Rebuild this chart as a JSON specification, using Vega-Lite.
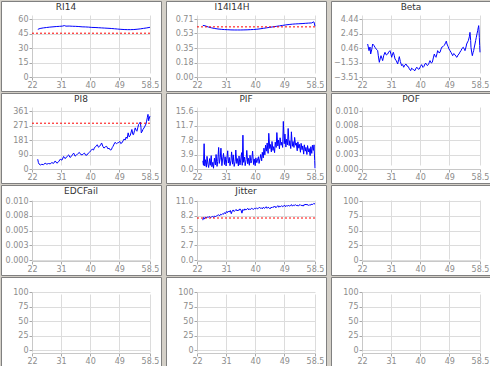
{
"$schema":"https://vega.github.io/schema/vega-lite/v6.json",
"background":"#d4d0c8",
"padding":0,
"bounds":"flush",
"spacing":{"row":2,"column":5},
"columns":3,
"config":{
 "view":{"fill":"#ffffff","stroke":"#808080","strokeWidth":1},
 "axis":{"grid":true,"gridColor":"#dcdcdc","domainColor":"#c8c8c8","tickColor":"#a8a8a8","tickSize":3,"labelFont":"DejaVu Sans","labelFontSize":8,"labelColor":"#8c8c8c","labelPadding":1,"labelFlush":false,"labelOverlap":false},
 "title":{"font":"DejaVu Sans","fontSize":9,"fontWeight":"normal","color":"#333333","offset":-11,"anchor":"middle","frame":"group"},
 "line":{"color":"#0000ff","strokeWidth":1},
 "rule":{"color":"#ff0000","strokeDash":[2,2],"strokeWidth":1}
},
"datasets":{
 "ri14":[{"x":23.8,"y":49.3},{"x":24.5,"y":50.2},{"x":25.5,"y":50.8},{"x":26.5,"y":51.2},{"x":27.5,"y":51.6},{"x":28.5,"y":51.9},{"x":29.5,"y":52.2},{"x":30.5,"y":52.4},{"x":31.5,"y":52.7},{"x":32,"y":53.2},{"x":32.5,"y":52.6},{"x":33.5,"y":52.7},{"x":34.5,"y":52.5},{"x":35.5,"y":52.4},{"x":36.5,"y":52.2},{"x":37.5,"y":51.9},{"x":38.5,"y":51.8},{"x":39.5,"y":51.6},{"x":40.5,"y":51.3},{"x":41.5,"y":51.2},{"x":42.5,"y":51.0},{"x":43.5,"y":50.8},{"x":44.5,"y":50.6},{"x":45.5,"y":50.4},{"x":46.5,"y":50.2},{"x":47.5,"y":49.9},{"x":48.5,"y":49.6},{"x":49.5,"y":49.3},{"x":50.5,"y":49.1},{"x":51.5,"y":49.0},{"x":52.5,"y":49.0},{"x":53.5,"y":49.1},{"x":54.5,"y":49.4},{"x":55.5,"y":49.8},{"x":56.5,"y":50.3},{"x":57.5,"y":50.8},{"x":58.5,"y":51.4}],
 "i14":[{"x":23.8,"y":0.63},{"x":24.5,"y":0.625},{"x":25.5,"y":0.61},{"x":26.5,"y":0.6},{"x":27.5,"y":0.592},{"x":28.5,"y":0.586},{"x":29.5,"y":0.582},{"x":30.5,"y":0.579},{"x":31.5,"y":0.577},{"x":32.5,"y":0.575},{"x":33.5,"y":0.574},{"x":34.5,"y":0.574},{"x":35.5,"y":0.574},{"x":36.5,"y":0.575},{"x":37.5,"y":0.576},{"x":38.5,"y":0.578},{"x":39.5,"y":0.58},{"x":40.5,"y":0.583},{"x":41.5,"y":0.588},{"x":42.5,"y":0.594},{"x":43.5,"y":0.6},{"x":44.5,"y":0.606},{"x":45.5,"y":0.612},{"x":46.5,"y":0.618},{"x":47.5,"y":0.624},{"x":48.5,"y":0.63},{"x":49.5,"y":0.636},{"x":50.5,"y":0.641},{"x":51.5,"y":0.645},{"x":52.5,"y":0.648},{"x":53.5,"y":0.65},{"x":54.5,"y":0.652},{"x":55.5,"y":0.655},{"x":56.5,"y":0.658},{"x":57.5,"y":0.66},{"x":58.0,"y":0.672},{"x":58.2,"y":0.67},{"x":58.5,"y":0.62}],
 "beta":[{"x":23.75,"y":1.01},{"x":24.17,"y":0.1},{"x":24.47,"y":0.6},{"x":24.68,"y":-0.36},{"x":24.99,"y":0.2},{"x":25.3,"y":1.01},{"x":25.71,"y":0.8},{"x":26.02,"y":0.56},{"x":26.43,"y":0.3},{"x":26.85,"y":0.1},{"x":27.05,"y":-0.6},{"x":27.36,"y":-1.5},{"x":27.67,"y":-0.9},{"x":27.88,"y":-0.59},{"x":28.19,"y":-1.0},{"x":28.39,"y":-1.27},{"x":28.7,"y":-0.6},{"x":29.11,"y":-0.13},{"x":29.53,"y":-0.5},{"x":29.94,"y":-0.36},{"x":30.25,"y":-0.1},{"x":30.66,"y":0.1},{"x":30.97,"y":-0.4},{"x":31.18,"y":-0.81},{"x":31.49,"y":-0.3},{"x":31.69,"y":-0.13},{"x":32.0,"y":-0.6},{"x":32.21,"y":-1.04},{"x":32.62,"y":-1.3},{"x":33.03,"y":-1.73},{"x":33.34,"y":-1.1},{"x":33.55,"y":-0.72},{"x":33.86,"y":-1.4},{"x":34.27,"y":-1.96},{"x":34.58,"y":-1.8},{"x":34.89,"y":-2.18},{"x":35.2,"y":-1.9},{"x":35.61,"y":-1.73},{"x":35.92,"y":-2.0},{"x":36.33,"y":-2.09},{"x":36.64,"y":-2.4},{"x":37.05,"y":-2.64},{"x":37.36,"y":-2.3},{"x":37.67,"y":-2.41},{"x":37.98,"y":-2.55},{"x":38.39,"y":-2.64},{"x":38.7,"y":-2.3},{"x":39.01,"y":-2.18},{"x":39.42,"y":-2.45},{"x":39.73,"y":-2.41},{"x":40.04,"y":-2.1},{"x":40.45,"y":-1.82},{"x":40.86,"y":-2.2},{"x":41.18,"y":-2.05},{"x":41.49,"y":-1.7},{"x":41.79,"y":-1.64},{"x":42.21,"y":-1.95},{"x":42.52,"y":-1.82},{"x":42.83,"y":-1.5},{"x":43.03,"y":-1.27},{"x":43.44,"y":-1.6},{"x":43.75,"y":-1.5},{"x":44.06,"y":-0.9},{"x":44.37,"y":-0.36},{"x":44.68,"y":-0.7},{"x":44.89,"y":-0.81},{"x":45.2,"y":-0.3},{"x":45.4,"y":0.1},{"x":45.82,"y":-0.2},{"x":46.13,"y":-0.13},{"x":46.44,"y":0.3},{"x":46.64,"y":0.56},{"x":47.05,"y":0.65},{"x":47.36,"y":0.79},{"x":47.67,"y":1.0},{"x":47.88,"y":1.24},{"x":48.08,"y":1.4},{"x":48.29,"y":1.01},{"x":48.6,"y":0.7},{"x":48.91,"y":0.33},{"x":49.22,"y":0.1},{"x":49.53,"y":-0.13},{"x":49.84,"y":-0.4},{"x":50.04,"y":-0.59},{"x":50.35,"y":-0.3},{"x":50.76,"y":-0.45},{"x":51.07,"y":-0.7},{"x":51.38,"y":-0.81},{"x":51.69,"y":-0.5},{"x":52.0,"y":-0.36},{"x":52.3,"y":-0.1},{"x":52.62,"y":0.1},{"x":52.93,"y":0.4},{"x":53.34,"y":0.56},{"x":53.65,"y":0.3},{"x":53.86,"y":0.1},{"x":54.17,"y":0.6},{"x":54.37,"y":1.01},{"x":54.68,"y":1.3},{"x":54.89,"y":1.47},{"x":55.2,"y":2.0},{"x":55.4,"y":2.61},{"x":55.61,"y":1.5},{"x":55.71,"y":0.56},{"x":55.92,"y":-0.1},{"x":56.13,"y":-0.59},{"x":56.33,"y":-0.2},{"x":56.54,"y":0.1},{"x":56.75,"y":0.6},{"x":56.95,"y":1.01},{"x":57.16,"y":1.5},{"x":57.36,"y":1.93},{"x":57.57,"y":2.4},{"x":57.78,"y":2.84},{"x":57.98,"y":3.3},{"x":58.09,"y":3.53},{"x":58.19,"y":3.0},{"x":58.29,"y":1.93},{"x":58.4,"y":0.8},{"x":58.5,"y":-0.13}],
 "pi8":[{"x":23.77,"y":61},{"x":23.98,"y":40},{"x":24.18,"y":31},{"x":24.6,"y":25},{"x":25.02,"y":29},{"x":25.54,"y":27},{"x":26.06,"y":36},{"x":26.58,"y":30},{"x":27.1,"y":34},{"x":27.62,"y":32},{"x":28.14,"y":40},{"x":28.66,"y":35},{"x":29.18,"y":50},{"x":29.7,"y":36},{"x":30.22,"y":45},{"x":30.74,"y":61},{"x":31.26,"y":55},{"x":31.78,"y":78},{"x":32.19,"y":65},{"x":32.5,"y":69},{"x":32.92,"y":80},{"x":33.34,"y":88},{"x":33.75,"y":72},{"x":34.17,"y":78},{"x":34.58,"y":92},{"x":34.9,"y":99},{"x":35.31,"y":80},{"x":35.73,"y":86},{"x":36.14,"y":95},{"x":36.66,"y":103},{"x":37.08,"y":90},{"x":37.5,"y":88},{"x":37.91,"y":95},{"x":38.22,"y":99},{"x":38.64,"y":85},{"x":39.06,"y":88},{"x":39.47,"y":100},{"x":39.89,"y":107},{"x":40.3,"y":115},{"x":40.62,"y":124},{"x":41.03,"y":118},{"x":41.34,"y":134},{"x":41.76,"y":140},{"x":42.18,"y":151},{"x":42.59,"y":135},{"x":42.9,"y":141},{"x":43.22,"y":150},{"x":43.53,"y":162},{"x":43.94,"y":140},{"x":44.26,"y":130},{"x":44.67,"y":138},{"x":45.09,"y":141},{"x":45.5,"y":125},{"x":45.82,"y":130},{"x":46.23,"y":118},{"x":46.54,"y":120},{"x":46.86,"y":135},{"x":47.06,"y":141},{"x":47.38,"y":155},{"x":47.69,"y":166},{"x":48.1,"y":158},{"x":48.42,"y":162},{"x":48.83,"y":165},{"x":49.14,"y":172},{"x":49.46,"y":158},{"x":49.77,"y":162},{"x":50.18,"y":175},{"x":50.5,"y":187},{"x":50.81,"y":180},{"x":51.12,"y":199},{"x":51.43,"y":190},{"x":51.74,"y":225},{"x":52.06,"y":200},{"x":52.37,"y":208},{"x":52.68,"y":230},{"x":52.89,"y":246},{"x":53.2,"y":215},{"x":53.41,"y":214},{"x":53.72,"y":240},{"x":53.93,"y":256},{"x":54.24,"y":240},{"x":54.45,"y":235},{"x":54.76,"y":260},{"x":54.97,"y":277},{"x":55.28,"y":285},{"x":55.49,"y":292},{"x":55.7,"y":260},{"x":55.8,"y":225},{"x":56.11,"y":235},{"x":56.32,"y":246},{"x":56.63,"y":255},{"x":56.94,"y":267},{"x":57.26,"y":280},{"x":57.46,"y":298},{"x":57.67,"y":320},{"x":57.88,"y":340},{"x":58.09,"y":300},{"x":58.19,"y":309},{"x":58.4,"y":325},{"x":58.5,"y":330}],
 "pif":[{"x":23.8,"y":2.2},{"x":24.0,"y":1.0},{"x":24.2,"y":6.8},{"x":24.4,"y":0.8},{"x":24.6,"y":2.5},{"x":24.9,"y":0.5},{"x":25.1,"y":3.4},{"x":25.4,"y":1.2},{"x":25.6,"y":0.4},{"x":25.9,"y":2.8},{"x":26.1,"y":1.0},{"x":26.4,"y":3.6},{"x":26.6,"y":0.6},{"x":26.9,"y":1.8},{"x":27.1,"y":0.2},{"x":27.4,"y":2.9},{"x":27.7,"y":1.1},{"x":27.9,"y":3.9},{"x":28.2,"y":0.7},{"x":28.4,"y":2.0},{"x":28.7,"y":5.8},{"x":28.9,"y":1.5},{"x":29.2,"y":3.0},{"x":29.4,"y":5.6},{"x":29.7,"y":0.9},{"x":29.9,"y":2.4},{"x":30.2,"y":4.2},{"x":30.5,"y":1.2},{"x":30.7,"y":3.3},{"x":31.0,"y":0.8},{"x":31.2,"y":2.6},{"x":31.5,"y":4.9},{"x":31.7,"y":1.6},{"x":32.0,"y":3.1},{"x":32.2,"y":0.9},{"x":32.5,"y":2.2},{"x":32.7,"y":4.6},{"x":33.0,"y":1.3},{"x":33.2,"y":3.8},{"x":33.5,"y":0.7},{"x":33.8,"y":2.0},{"x":34.0,"y":5.1},{"x":34.3,"y":1.5},{"x":34.5,"y":2.8},{"x":34.8,"y":0.8},{"x":35.0,"y":3.5},{"x":35.3,"y":1.1},{"x":35.5,"y":2.4},{"x":35.8,"y":4.4},{"x":36.0,"y":1.0},{"x":36.2,"y":9.1},{"x":36.4,"y":1.8},{"x":36.7,"y":3.2},{"x":36.9,"y":0.9},{"x":37.2,"y":2.5},{"x":37.4,"y":5.0},{"x":37.7,"y":1.4},{"x":37.9,"y":2.9},{"x":38.2,"y":1.0},{"x":38.4,"y":3.7},{"x":38.7,"y":1.6},{"x":38.9,"y":2.3},{"x":39.2,"y":4.8},{"x":39.5,"y":1.2},{"x":39.7,"y":2.7},{"x":40.0,"y":0.9},{"x":40.2,"y":3.0},{"x":40.5,"y":1.7},{"x":40.7,"y":2.4},{"x":41.0,"y":3.3},{"x":41.2,"y":1.5},{"x":41.5,"y":2.8},{"x":41.7,"y":3.9},{"x":42.0,"y":2.2},{"x":42.2,"y":4.5},{"x":42.5,"y":3.0},{"x":42.7,"y":5.6},{"x":43.0,"y":3.8},{"x":43.2,"y":6.4},{"x":43.5,"y":4.8},{"x":43.7,"y":7.0},{"x":44.0,"y":4.2},{"x":44.2,"y":9.6},{"x":44.5,"y":5.5},{"x":44.7,"y":6.6},{"x":45.0,"y":4.6},{"x":45.2,"y":7.4},{"x":45.5,"y":5.0},{"x":45.7,"y":6.0},{"x":46.0,"y":4.4},{"x":46.2,"y":7.2},{"x":46.5,"y":5.8},{"x":46.7,"y":9.8},{"x":47.0,"y":6.2},{"x":47.2,"y":7.8},{"x":47.5,"y":5.4},{"x":47.7,"y":8.4},{"x":48.0,"y":6.4},{"x":48.2,"y":7.2},{"x":48.5,"y":5.8},{"x":48.7,"y":12.8},{"x":49.0,"y":6.8},{"x":49.2,"y":9.4},{"x":49.5,"y":5.9},{"x":49.7,"y":8.0},{"x":50.0,"y":6.5},{"x":50.2,"y":10.9},{"x":50.5,"y":6.3},{"x":50.7,"y":7.6},{"x":51.0,"y":5.5},{"x":51.2,"y":10.0},{"x":51.5,"y":6.1},{"x":51.7,"y":7.4},{"x":52.0,"y":5.8},{"x":52.2,"y":8.5},{"x":52.5,"y":6.4},{"x":52.7,"y":7.0},{"x":53.0,"y":4.9},{"x":53.2,"y":7.3},{"x":53.5,"y":5.6},{"x":53.7,"y":6.6},{"x":54.0,"y":4.5},{"x":54.2,"y":6.9},{"x":54.5,"y":5.2},{"x":54.7,"y":6.2},{"x":55.0,"y":4.0},{"x":55.2,"y":6.5},{"x":55.5,"y":4.8},{"x":55.7,"y":5.8},{"x":56.0,"y":3.9},{"x":56.2,"y":6.3},{"x":56.5,"y":4.6},{"x":56.7,"y":5.5},{"x":57.0,"y":3.6},{"x":57.2,"y":6.0},{"x":57.5,"y":4.2},{"x":57.7,"y":6.4},{"x":58.0,"y":5.0},{"x":58.2,"y":6.5},{"x":58.4,"y":2.3},{"x":58.5,"y":0.2}],
 "jit":[{"x":23.8,"y":7.4},{"x":24.0,"y":7.9},{"x":24.3,"y":7.6},{"x":24.6,"y":8.0},{"x":24.9,"y":7.8},{"x":25.2,"y":8.0},{"x":25.5,"y":7.9},{"x":25.8,"y":8.1},{"x":26.1,"y":7.9},{"x":26.5,"y":8.0},{"x":26.8,"y":8.1},{"x":27.1,"y":7.9},{"x":27.4,"y":8.2},{"x":27.7,"y":8.0},{"x":28.0,"y":8.2},{"x":28.4,"y":8.3},{"x":28.7,"y":8.4},{"x":29.0,"y":8.2},{"x":29.3,"y":8.5},{"x":29.6,"y":8.4},{"x":29.9,"y":8.6},{"x":30.2,"y":8.5},{"x":30.5,"y":8.8},{"x":30.8,"y":8.6},{"x":31.1,"y":9.0},{"x":31.4,"y":8.8},{"x":31.7,"y":9.1},{"x":32.0,"y":8.9},{"x":32.3,"y":9.2},{"x":32.6,"y":8.6},{"x":32.9,"y":9.1},{"x":33.2,"y":9.3},{"x":33.5,"y":9.0},{"x":33.8,"y":9.2},{"x":34.1,"y":9.4},{"x":34.4,"y":9.1},{"x":34.7,"y":9.3},{"x":35.0,"y":9.2},{"x":35.3,"y":9.5},{"x":35.6,"y":9.3},{"x":35.9,"y":8.7},{"x":36.2,"y":9.4},{"x":36.5,"y":9.2},{"x":36.8,"y":9.5},{"x":37.1,"y":9.3},{"x":37.4,"y":9.4},{"x":37.7,"y":9.6},{"x":38.0,"y":9.3},{"x":38.3,"y":9.5},{"x":38.6,"y":9.4},{"x":38.9,"y":9.6},{"x":39.2,"y":9.5},{"x":39.5,"y":9.4},{"x":39.8,"y":9.6},{"x":40.1,"y":9.5},{"x":40.4,"y":9.7},{"x":40.7,"y":9.5},{"x":41.0,"y":9.6},{"x":41.3,"y":9.8},{"x":41.6,"y":9.6},{"x":41.9,"y":9.7},{"x":42.2,"y":9.5},{"x":42.5,"y":9.8},{"x":42.8,"y":9.6},{"x":43.1,"y":9.7},{"x":43.4,"y":9.9},{"x":43.7,"y":9.6},{"x":44.0,"y":9.8},{"x":44.3,"y":9.7},{"x":44.6,"y":9.5},{"x":44.9,"y":9.8},{"x":45.2,"y":9.7},{"x":45.5,"y":9.9},{"x":45.8,"y":9.8},{"x":46.1,"y":10.0},{"x":46.4,"y":9.7},{"x":46.7,"y":9.9},{"x":47.0,"y":10.1},{"x":47.3,"y":9.8},{"x":47.6,"y":10.0},{"x":47.9,"y":9.9},{"x":48.2,"y":10.1},{"x":48.5,"y":9.9},{"x":48.8,"y":10.0},{"x":49.1,"y":10.2},{"x":49.4,"y":9.9},{"x":49.7,"y":10.1},{"x":50.0,"y":10.0},{"x":50.3,"y":10.2},{"x":50.6,"y":10.0},{"x":50.9,"y":10.1},{"x":51.2,"y":10.3},{"x":51.5,"y":10.0},{"x":51.8,"y":10.2},{"x":52.1,"y":10.1},{"x":52.4,"y":10.3},{"x":52.7,"y":10.1},{"x":53.0,"y":10.2},{"x":53.3,"y":10.0},{"x":53.6,"y":10.2},{"x":53.9,"y":10.3},{"x":54.2,"y":10.1},{"x":54.5,"y":10.2},{"x":54.8,"y":10.0},{"x":55.1,"y":10.3},{"x":55.4,"y":10.2},{"x":55.7,"y":10.4},{"x":56.0,"y":10.2},{"x":56.3,"y":10.3},{"x":56.6,"y":10.1},{"x":56.9,"y":10.3},{"x":57.2,"y":10.2},{"x":57.5,"y":10.4},{"x":57.8,"y":10.3},{"x":58.1,"y":10.5},{"x":58.5,"y":10.4}],
 "none":[]
},
"concat":[
 {"width":160,"height":90,"title":{"text":"RI14","dx":-15,"frame":"group"},"layer":[
  {"data":{"name":"ri14"},"mark":{"type":"line","color":"#0000ff"},"encoding":{
   "x":{"field":"x","type":"quantitative","scale":{"domain":[22,58.5],"range":[31,149],"nice":false,"zero":false},"axis":{"title":null,"values":[22,31,40,49,58.5],"format":".1~f","labelOverlap":false,"offset":-14}},
   "y":{"field":"y","type":"quantitative","scale":{"domain":[0,60],"range":[76,18],"nice":false,"zero":false},"axis":{"title":null,"values":[0,15,30,45,60],"format":"d","labelOverlap":false,"offset":-31}}}},
  {"data":{"values":[{}]},"mark":{"type":"rule","color":"#ff0000","strokeDash":[2,2]},"encoding":{
   "x":{"datum":22,"axis":{"title":null,"values":[22,31,40,49,58.5],"format":".1~f","labelOverlap":false,"offset":-14}},"x2":{"datum":58.5},
   "y":{"datum":45.3,"axis":{"title":null,"values":[0,15,30,45,60],"format":"d","labelOverlap":false,"offset":-31}}}}]},
 {"width":160,"height":90,"title":{"text":"I14I14H","dx":-14,"frame":"group"},"layer":[
  {"data":{"name":"i14"},"mark":{"type":"line","color":"#0000ff"},"encoding":{
   "x":{"field":"x","type":"quantitative","scale":{"domain":[22,58.5],"range":[31,149],"nice":false,"zero":false},"axis":{"title":null,"values":[22,31,40,49,58.5],"format":".1~f","labelOverlap":false,"offset":-14}},
   "y":{"field":"y","type":"quantitative","scale":{"domain":[0,0.708],"range":[76,18],"nice":false,"zero":false},"axis":{"title":null,"values":[0,0.177,0.354,0.531,0.708],"format":".2f","labelOverlap":false,"offset":-31}}}},
  {"data":{"values":[{}]},"mark":{"type":"rule","color":"#ff0000","strokeDash":[2,2]},"encoding":{
   "x":{"datum":22,"axis":{"title":null,"values":[22,31,40,49,58.5],"format":".1~f","labelOverlap":false,"offset":-14}},"x2":{"datum":58.5},
   "y":{"datum":0.612,"axis":{"title":null,"values":[0,0.177,0.354,0.531,0.708],"format":".2f","labelOverlap":false,"offset":-31}}}}]},
 {"width":160,"height":90,"title":{"text":"Beta","frame":"group"},"layer":[
  {"data":{"name":"beta"},"mark":{"type":"line","color":"#0000ff"},"encoding":{
   "x":{"field":"x","type":"quantitative","scale":{"domain":[22,58.5],"range":[31,149],"nice":false,"zero":false},"axis":{"title":null,"values":[22,31,40,49,58.5],"format":".1~f","labelOverlap":false,"offset":-14}},
   "y":{"field":"y","type":"quantitative","scale":{"domain":[-3.514,4.44],"range":[76,18],"nice":false,"zero":false},"axis":{"title":null,"values":[-3.514,-1.5255,0.463,2.4515,4.44],"format":".2f","labelOverlap":false,"offset":-31}}}}]},
 {"width":160,"height":90,"title":{"text":"PI8","frame":"group"},"layer":[
  {"data":{"name":"pi8"},"mark":{"type":"line","color":"#0000ff"},"encoding":{
   "x":{"field":"x","type":"quantitative","scale":{"domain":[22,58.5],"range":[31,149],"nice":false,"zero":false},"axis":{"title":null,"values":[22,31,40,49,58.5],"format":".1~f","labelOverlap":false,"offset":-14}},
   "y":{"field":"y","type":"quantitative","scale":{"domain":[0,361],"range":[76,18],"nice":false,"zero":false},"axis":{"title":null,"values":[0,90.25,180.5,270.75,361],"format":".0f","labelOverlap":false,"offset":-31}}}},
  {"data":{"values":[{}]},"mark":{"type":"rule","color":"#ff0000","strokeDash":[2,2]},"encoding":{
   "x":{"datum":22,"axis":{"title":null,"values":[22,31,40,49,58.5],"format":".1~f","labelOverlap":false,"offset":-14}},"x2":{"datum":58.5},
   "y":{"datum":285,"axis":{"title":null,"values":[0,90.25,180.5,270.75,361],"format":".0f","labelOverlap":false,"offset":-31}}}}]},
 {"width":160,"height":90,"title":{"text":"PIF","frame":"group"},"layer":[
  {"data":{"name":"pif"},"mark":{"type":"line","color":"#0000ff"},"encoding":{
   "x":{"field":"x","type":"quantitative","scale":{"domain":[22,58.5],"range":[31,149],"nice":false,"zero":false},"axis":{"title":null,"values":[22,31,40,49,58.5],"format":".1~f","labelOverlap":false,"offset":-14}},
   "y":{"field":"y","type":"quantitative","scale":{"domain":[0,15.6],"range":[76,18],"nice":false,"zero":false},"axis":{"title":null,"values":[0,3.9,7.8,11.7,15.6],"format":".1f","labelOverlap":false,"offset":-31}}}}]},
 {"width":160,"height":90,"title":{"text":"POF","frame":"group"},"layer":[
  {"data":{"name":"none"},"mark":{"type":"line","color":"#0000ff"},"encoding":{
   "x":{"field":"x","type":"quantitative","scale":{"domain":[22,58.5],"range":[31,149],"nice":false,"zero":false},"axis":{"title":null,"values":[22,31,40,49,58.5],"format":".1~f","labelOverlap":false,"offset":-14}},
   "y":{"field":"y","type":"quantitative","scale":{"domain":[0,0.01],"range":[76,18],"nice":false,"zero":false},"axis":{"title":null,"values":[0,0.0025,0.005,0.0075,0.01],"labelExpr":"format(datum.value + 1e-9, '.3f')","labelOverlap":false,"offset":-31}}}}]},
 {"width":160,"height":90,"title":{"text":"EDCFail","frame":"group"},"layer":[
  {"data":{"name":"none"},"mark":{"type":"line","color":"#0000ff"},"encoding":{
   "x":{"field":"x","type":"quantitative","scale":{"domain":[22,58.5],"range":[31,149],"nice":false,"zero":false},"axis":{"title":null,"values":[22,31,40,49,58.5],"format":".1~f","labelOverlap":false,"offset":-14}},
   "y":{"field":"y","type":"quantitative","scale":{"domain":[0,0.01],"range":[75,16],"nice":false,"zero":false},"axis":{"title":null,"values":[0,0.0025,0.005,0.0075,0.01],"labelExpr":"format(datum.value + 1e-9, '.3f')","labelOverlap":false,"offset":-31}}}}]},
 {"width":160,"height":90,"title":{"text":"Jitter","frame":"group"},"layer":[
  {"data":{"name":"jit"},"mark":{"type":"line","color":"#0000ff"},"encoding":{
   "x":{"field":"x","type":"quantitative","scale":{"domain":[22,58.5],"range":[31,149],"nice":false,"zero":false},"axis":{"title":null,"values":[22,31,40,49,58.5],"format":".1~f","labelOverlap":false,"offset":-14}},
   "y":{"field":"y","type":"quantitative","scale":{"domain":[0,10.96],"range":[75,16],"nice":false,"zero":false},"axis":{"title":null,"values":[0,2.74,5.48,8.22,10.96],"format":".1f","labelOverlap":false,"offset":-31}}}},
  {"data":{"values":[{}]},"mark":{"type":"rule","color":"#ff0000","strokeDash":[2,2]},"encoding":{
   "x":{"datum":22,"axis":{"title":null,"values":[22,31,40,49,58.5],"format":".1~f","labelOverlap":false,"offset":-14}},"x2":{"datum":58.5},
   "y":{"datum":7.8,"axis":{"title":null,"values":[0,2.74,5.48,8.22,10.96],"format":".1f","labelOverlap":false,"offset":-31}}}}]},
 {"width":160,"height":90,"layer":[
  {"data":{"name":"none"},"mark":{"type":"line","color":"#0000ff"},"encoding":{
   "x":{"field":"x","type":"quantitative","scale":{"domain":[22,58.5],"range":[31,149],"nice":false,"zero":false},"axis":{"title":null,"values":[22,31,40,49,58.5],"format":".1~f","labelOverlap":false,"offset":-14}},
   "y":{"field":"y","type":"quantitative","scale":{"domain":[0,100],"range":[75,16],"nice":false,"zero":false},"axis":{"title":null,"values":[0,25,50,75,100],"format":"d","labelOverlap":false,"offset":-31}}}}]},
 {"width":160,"height":90,"layer":[
  {"data":{"name":"none"},"mark":{"type":"line","color":"#0000ff"},"encoding":{
   "x":{"field":"x","type":"quantitative","scale":{"domain":[22,58.5],"range":[31,149],"nice":false,"zero":false},"axis":{"title":null,"values":[22,31,40,49,58.5],"format":".1~f","labelOverlap":false,"offset":-14}},
   "y":{"field":"y","type":"quantitative","scale":{"domain":[0,100],"range":[73,15],"nice":false,"zero":false},"axis":{"title":null,"values":[0,25,50,75,100],"format":"d","labelOverlap":false,"offset":-31}}}}]},
 {"width":160,"height":90,"layer":[
  {"data":{"name":"none"},"mark":{"type":"line","color":"#0000ff"},"encoding":{
   "x":{"field":"x","type":"quantitative","scale":{"domain":[22,58.5],"range":[31,149],"nice":false,"zero":false},"axis":{"title":null,"values":[22,31,40,49,58.5],"format":".1~f","labelOverlap":false,"offset":-14}},
   "y":{"field":"y","type":"quantitative","scale":{"domain":[0,100],"range":[73,15],"nice":false,"zero":false},"axis":{"title":null,"values":[0,25,50,75,100],"format":"d","labelOverlap":false,"offset":-31}}}}]},
 {"width":160,"height":90,"layer":[
  {"data":{"name":"none"},"mark":{"type":"line","color":"#0000ff"},"encoding":{
   "x":{"field":"x","type":"quantitative","scale":{"domain":[22,58.5],"range":[31,149],"nice":false,"zero":false},"axis":{"title":null,"values":[22,31,40,49,58.5],"format":".1~f","labelOverlap":false,"offset":-14}},
   "y":{"field":"y","type":"quantitative","scale":{"domain":[0,100],"range":[73,15],"nice":false,"zero":false},"axis":{"title":null,"values":[0,25,50,75,100],"format":"d","labelOverlap":false,"offset":-31}}}}]}
]
}
